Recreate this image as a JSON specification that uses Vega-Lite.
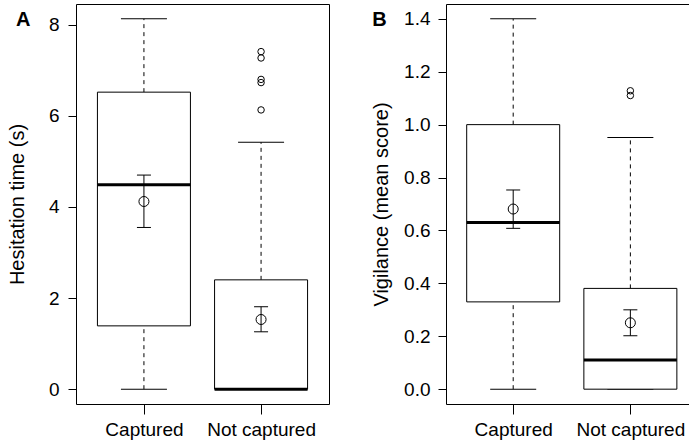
{
  "$schema": "https://vega.github.io/schema/vega-lite/v6.json",
  "padding": {"left": 6, "top": 3, "right": 0, "bottom": 0},
  "background": "white",
  "spacing": 41,
  "datasets": {
    "statsA": [
      {"group": "Captured", "lo": 0, "q1": 1.39, "median": 4.49, "q3": 6.52, "hi": 8.13, "mean": 4.12, "se_lo": 3.55, "se_hi": 4.70},
      {"group": "Not captured", "lo": 0, "q1": 0, "median": 0, "q3": 2.40, "hi": 5.42, "mean": 1.53, "se_lo": 1.26, "se_hi": 1.81}
    ],
    "outA": [
      {"group": "Not captured", "value": 7.41},
      {"group": "Not captured", "value": 7.27},
      {"group": "Not captured", "value": 6.80},
      {"group": "Not captured", "value": 6.73},
      {"group": "Not captured", "value": 6.13}
    ],
    "statsB": [
      {"group": "Captured", "lo": 0, "q1": 0.33, "median": 0.63, "q3": 1.0, "hi": 1.40, "mean": 0.681, "se_lo": 0.608, "se_hi": 0.753},
      {"group": "Not captured", "lo": 0, "q1": 0, "median": 0.11, "q3": 0.381, "hi": 0.951, "mean": 0.251, "se_lo": 0.202, "se_hi": 0.300}
    ],
    "outB": [
      {"group": "Not captured", "value": 1.128},
      {"group": "Not captured", "value": 1.110}
    ],
    "panelA": [{"label": "A"}],
    "panelB": [{"label": "B"}]
  },
  "config": {
    "font": "Liberation Sans",
    "view": {"stroke": "black", "strokeWidth": 1},
    "axis": {"grid": false, "domain": false, "tickColor": "black", "labelColor": "black", "titleColor": "black", "labelFontSize": 19, "titleFontSize": 20, "titleFontWeight": "normal", "labelFont": "Liberation Sans", "titleFont": "Liberation Sans"},
    "tick": {"opacity": 1, "color": "black"},
    "rule": {"color": "black"}
  },
  "hconcat": [
    {
      "width": 253,
      "height": 400,
      "encoding": {
        "x": {"field": "group", "type": "nominal", "sort": ["Captured", "Not captured"], "scale": {"type": "point", "padding": 0.58, "align": 0.5}, "axis": {"title": null, "labelAngle": 0, "tickSize": 10, "labelPadding": 6}}
      },
      "layer": [
        {"data": {"name": "statsA"}, "mark": {"type": "rule", "strokeDash": [4, 4], "strokeWidth": 1},
         "encoding": {"y": {"field": "lo", "type": "quantitative", "scale": {"domain": [-0.325, 8.455], "nice": false, "zero": false}, "axis": {"title": "Hesitation time (s)", "values": [0, 2, 4, 6, 8], "tickSize": 8, "labelPadding": 9, "titlePadding": 21}}, "y2": {"field": "q1"}}},
        {"data": {"name": "statsA"}, "mark": {"type": "rule", "strokeDash": [4, 4], "strokeWidth": 1},
         "encoding": {"y": {"field": "q3", "type": "quantitative"}, "y2": {"field": "hi"}}},
        {"data": {"name": "statsA"}, "mark": {"type": "tick", "size": 46, "thickness": 1},
         "encoding": {"y": {"field": "hi", "type": "quantitative"}}},
        {"data": {"name": "statsA"}, "mark": {"type": "tick", "size": 46, "thickness": 1},
         "encoding": {"y": {"field": "lo", "type": "quantitative"}}},
        {"data": {"name": "statsA"}, "mark": {"type": "bar", "size": 93, "fill": "white", "stroke": "black", "strokeWidth": 1},
         "encoding": {"y": {"field": "q1", "type": "quantitative"}, "y2": {"field": "q3"}}},
        {"data": {"name": "statsA"}, "mark": {"type": "tick", "size": 93, "thickness": 3},
         "encoding": {"y": {"field": "median", "type": "quantitative"}}},
        {"data": {"name": "statsA"}, "mark": {"type": "rule", "strokeWidth": 1},
         "encoding": {"y": {"field": "se_lo", "type": "quantitative"}, "y2": {"field": "se_hi"}}},
        {"data": {"name": "statsA"}, "mark": {"type": "tick", "size": 14, "thickness": 1},
         "encoding": {"y": {"field": "se_hi", "type": "quantitative"}}},
        {"data": {"name": "statsA"}, "mark": {"type": "tick", "size": 14, "thickness": 1},
         "encoding": {"y": {"field": "se_lo", "type": "quantitative"}}},
        {"data": {"name": "statsA"}, "mark": {"type": "point", "shape": "circle", "filled": false, "size": 100, "stroke": "black", "strokeWidth": 1, "opacity": 1},
         "encoding": {"y": {"field": "mean", "type": "quantitative"}}},
        {"data": {"name": "outA"}, "mark": {"type": "point", "shape": "circle", "filled": false, "size": 42, "stroke": "black", "strokeWidth": 1, "opacity": 1},
         "encoding": {"y": {"field": "value", "type": "quantitative"}}},
        {"data": {"name": "panelA"}, "mark": {"type": "text", "fontSize": 20, "fontWeight": "bold", "color": "black", "align": "left", "baseline": "alphabetic", "dx": -128, "dy": 1},
         "encoding": {"text": {"field": "label"}, "x": {"datum": "Captured"}, "y": {"datum": 8, "type": "quantitative"}}}
      ]
    },
    {
      "width": 243,
      "height": 400,
      "encoding": {
        "x": {"field": "group", "type": "nominal", "sort": ["Captured", "Not captured"], "scale": {"type": "point", "padding": 0.537, "align": 0.534}, "axis": {"title": null, "labelAngle": 0, "tickSize": 10, "labelPadding": 6}}
      },
      "layer": [
        {"data": {"name": "statsB"}, "mark": {"type": "rule", "strokeDash": [4, 4], "strokeWidth": 1},
         "encoding": {"y": {"field": "lo", "type": "quantitative", "scale": {"domain": [-0.056, 1.456], "nice": false, "zero": false}, "axis": {"title": "Vigilance (mean score)", "values": [0, 0.2, 0.4, 0.6, 0.8, 1.0, 1.2, 1.4], "format": ".1f", "tickSize": 8, "labelPadding": 8, "titlePadding": 12}}, "y2": {"field": "q1"}}},
        {"data": {"name": "statsB"}, "mark": {"type": "rule", "strokeDash": [4, 4], "strokeWidth": 1},
         "encoding": {"y": {"field": "q3", "type": "quantitative"}, "y2": {"field": "hi"}}},
        {"data": {"name": "statsB"}, "mark": {"type": "tick", "size": 46, "thickness": 1},
         "encoding": {"y": {"field": "hi", "type": "quantitative"}}},
        {"data": {"name": "statsB"}, "mark": {"type": "tick", "size": 46, "thickness": 1},
         "encoding": {"y": {"field": "lo", "type": "quantitative"}}},
        {"data": {"name": "statsB"}, "mark": {"type": "bar", "size": 93, "fill": "white", "stroke": "black", "strokeWidth": 1},
         "encoding": {"y": {"field": "q1", "type": "quantitative"}, "y2": {"field": "q3"}}},
        {"data": {"name": "statsB"}, "mark": {"type": "tick", "size": 93, "thickness": 3},
         "encoding": {"y": {"field": "median", "type": "quantitative"}}},
        {"data": {"name": "statsB"}, "mark": {"type": "rule", "strokeWidth": 1},
         "encoding": {"y": {"field": "se_lo", "type": "quantitative"}, "y2": {"field": "se_hi"}}},
        {"data": {"name": "statsB"}, "mark": {"type": "tick", "size": 14, "thickness": 1},
         "encoding": {"y": {"field": "se_hi", "type": "quantitative"}}},
        {"data": {"name": "statsB"}, "mark": {"type": "tick", "size": 14, "thickness": 1},
         "encoding": {"y": {"field": "se_lo", "type": "quantitative"}}},
        {"data": {"name": "statsB"}, "mark": {"type": "point", "shape": "circle", "filled": false, "size": 100, "stroke": "black", "strokeWidth": 1, "opacity": 1},
         "encoding": {"y": {"field": "mean", "type": "quantitative"}}},
        {"data": {"name": "outB"}, "mark": {"type": "point", "shape": "circle", "filled": false, "size": 42, "stroke": "black", "strokeWidth": 1, "opacity": 1},
         "encoding": {"y": {"field": "value", "type": "quantitative"}}},
        {"data": {"name": "panelB"}, "mark": {"type": "text", "fontSize": 20, "fontWeight": "bold", "color": "black", "align": "left", "baseline": "alphabetic", "dx": -141, "dy": 7},
         "encoding": {"text": {"field": "label"}, "x": {"datum": "Captured"}, "y": {"datum": 1.4, "type": "quantitative"}}}
      ]
    }
  ]
}
